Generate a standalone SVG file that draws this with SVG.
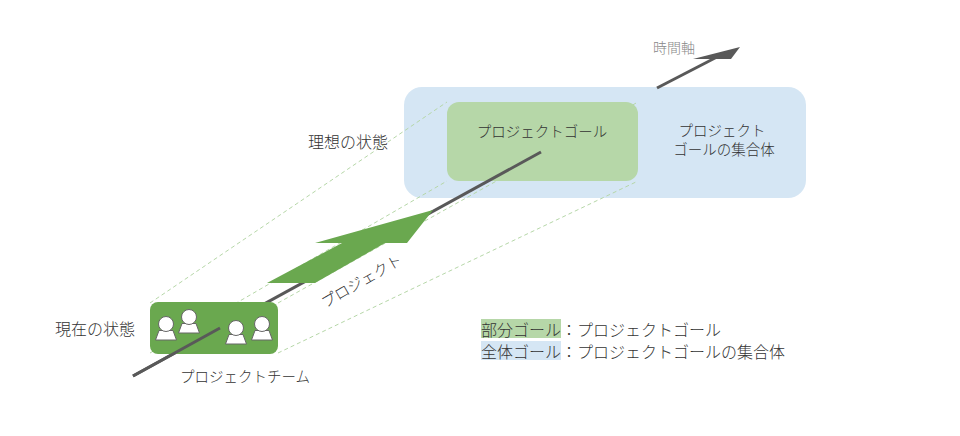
<svg xmlns="http://www.w3.org/2000/svg" width="960" height="436" viewBox="0 0 960 436">
  <defs>
    <style>
      text { font-family: "Noto Sans CJK JP", "Noto Sans", sans-serif; font-weight: 300; fill: #333333; dominant-baseline: central; }
      .lbl16 { font-size: 16px; }
      .lbl14 { font-size: 14.5px; }
      .axis { stroke: #595959; stroke-width: 3; fill: none; stroke-linecap: butt; }
      .dash { stroke: #b6d7a8; stroke-width: 1; stroke-dasharray: 4 3; fill: none; }
      .person { fill: #ffffff; stroke: #666666; stroke-width: 1; }
    </style>
    <g id="person">
      <path class="person" d="M-7,6.5 L7,6.5 L10.5,16 L-10.5,16 Z"/>
      <circle class="person" cx="0" cy="0" r="7.5"/>
    </g>
  </defs>
  <rect width="960" height="436" fill="#ffffff"/>

  <g id="goal-set">
    <rect x="404" y="87" width="402" height="111" rx="18" fill="#d5e6f4"/>
    <text class="lbl14" x="722" y="129.5" text-anchor="middle">プロジェクト</text>
    <text class="lbl14" x="724" y="148.5" text-anchor="middle">ゴールの集合体</text>
  </g>

  <g id="connectors">
    <line class="dash" x1="150" y1="303" x2="447" y2="102"/>
    <line class="dash" x1="278" y1="303" x2="638" y2="102"/>
    <line class="dash" x1="150" y1="353" x2="447" y2="181"/>
    <line class="dash" x1="278" y1="353" x2="638" y2="181"/>
  </g>

  <g id="project-goal">
    <rect x="447" y="102" width="191" height="79" rx="12" fill="#b6d7a8"/>
    <text class="lbl14" x="542" y="130" text-anchor="middle">プロジェクトゴール</text>
  </g>

  <g id="time-axis">
    <line class="axis" x1="133" y1="376" x2="541" y2="152"/>
  </g>

  <g id="project-arrow">
    <polygon points="433,210 315,243 342,243 267,283 315,283 385,243 407,243" fill="#6aa84f"/>
    <text style="font-size:15px" transform="translate(361,280) rotate(-30)" x="0" y="0" text-anchor="middle">プロジェクト</text>
  </g>

  <g id="project-team">
    <rect x="150" y="302" width="128" height="52" rx="8" fill="#6aa84f"/>
    <use href="#person" x="166" y="324"/>
    <use href="#person" x="189" y="317"/>
    <use href="#person" x="236" y="328"/>
    <use href="#person" x="262" y="324"/>
    <text class="lbl14" x="180" y="375">プロジェクトチーム</text>
  </g>

  <g id="time-axis-front">
    <line class="axis" x1="133" y1="376" x2="220" y2="328"/>
    <line class="axis" x1="657" y1="88" x2="716" y2="57.5"/>
    <polygon points="693,59 740,47 731,59" fill="#595959"/>
    <text x="653" y="47" style="font-size:14px; fill:#888888">時間軸</text>
  </g>

  <g id="labels">
    <text class="lbl16" x="55" y="328">現在の状態</text>
    <text class="lbl16" x="308" y="141">理想の状態</text>
  </g>

  <g id="legend">
    <rect x="481" y="319" width="80" height="19" fill="#b6d7a8"/>
    <rect x="481" y="341" width="80" height="19" fill="#d5e6f4"/>
    <text class="lbl16" x="481" y="328.5">部分ゴール：プロジェクトゴール</text>
    <text class="lbl16" x="481" y="351">全体ゴール：プロジェクトゴールの集合体</text>
  </g>
</svg>
